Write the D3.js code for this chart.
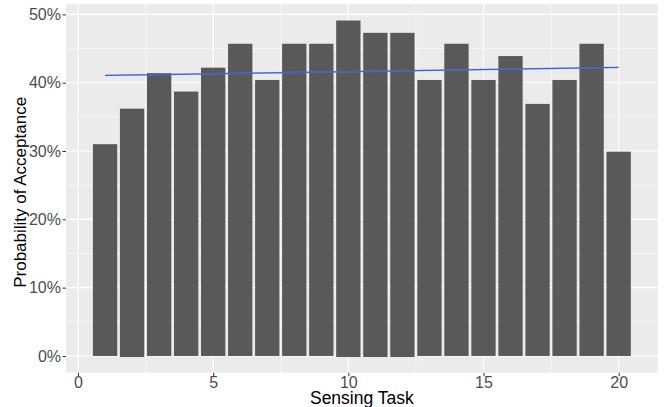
<!DOCTYPE html>
<html>
<head>
<meta charset="utf-8">
<script src="https://cdn.jsdelivr.net/npm/d3@7"></script>
<style>
  html, body { margin: 0; padding: 0; background: #fff; }
  svg { display: block; }
  text { font-family: "Liberation Sans", Arial, Helvetica, sans-serif; }
</style>
</head>
<body>
<svg id="chart" width="664" height="407"></svg>
<script>
// ---- data ----
const tasks = [1,2,3,4,5,6,7,8,9,10,11,12,13,14,15,16,17,18,19,20];
const acceptance = [0.310,0.362,0.414,0.387,0.422,0.457,0.404,0.457,0.457,0.491,
                    0.473,0.473,0.404,0.457,0.404,0.439,0.369,0.404,0.457,0.299];
const barBase = [0,-0.0015,0,0,0,0,0,0,0,-0.0015,-0.0015,-0.0015,0,0,0,0,0,0,0,0];
const trendX = [1, 20];
const trendY = [0.4106, 0.4223];
const trendSe = [0.0012, 0.0012];
const xTicks = [0,5,10,15,20];
const xMinor = [2.5,7.5,12.5,17.5];
const yTicks = [0,0.1,0.2,0.3,0.4,0.5];
const yMinor = [0.05,0.15,0.25,0.35,0.45];
const xTitle = "Sensing Task";
const yTitle = "Probability of Acceptance";

// ---- layout ----
const svg = d3.select("#chart");
const panel = {left: 66, right: 657.7, top: 4, bottom: 372.7};

const x = d3.scaleLinear().domain([-0.445, 21.445]).range([panel.left, panel.right]);
const y = d3.scaleLinear().domain([-0.0245, 0.5152]).range([panel.bottom, panel.top]);

svg.append("rect")
  .attr("x", panel.left).attr("y", panel.top)
  .attr("width", panel.right - panel.left).attr("height", panel.bottom - panel.top)
  .attr("fill", "#EBEBEB");

const grid = svg.append("g");
grid.selectAll("line.ymin").data(yMinor).join("line")
  .attr("x1", panel.left).attr("x2", panel.right)
  .attr("y1", d => y(d)).attr("y2", d => y(d))
  .attr("stroke", "#fff").attr("stroke-width", 0.55);
grid.selectAll("line.xmin").data(xMinor).join("line")
  .attr("y1", panel.top).attr("y2", panel.bottom)
  .attr("x1", d => x(d)).attr("x2", d => x(d))
  .attr("stroke", "#fff").attr("stroke-width", 0.55);
grid.selectAll("line.ymaj").data(yTicks).join("line")
  .attr("x1", panel.left).attr("x2", panel.right)
  .attr("y1", d => y(d)).attr("y2", d => y(d))
  .attr("stroke", "#fff").attr("stroke-width", 1.1);
grid.selectAll("line.xmaj").data(xTicks).join("line")
  .attr("y1", panel.top).attr("y2", panel.bottom)
  .attr("x1", d => x(d)).attr("x2", d => x(d))
  .attr("stroke", "#fff").attr("stroke-width", 1.1);

// bars
svg.append("g").selectAll("rect").data(tasks).join("rect")
  .attr("x", (d) => x(d - 0.45))
  .attr("width", () => x(0.45) - x(-0.45))
  .attr("y", (d, i) => y(acceptance[i]))
  .attr("height", (d, i) => y(barBase[i]) - y(acceptance[i]))
  .attr("fill", "#595959");

// trend ribbon + line
const trend = trendX.map((d, i) => ({x: d, y: trendY[i], se: trendSe[i]}));
svg.append("path").datum(trend)
  .attr("d", d3.area().x(d => x(d.x)).y0(d => y(d.y - d.se)).y1(d => y(d.y + d.se)))
  .attr("fill", "#999").attr("opacity", 0.4);
svg.append("path").datum(trend)
  .attr("d", d3.line().x(d => x(d.x)).y(d => y(d.y)))
  .attr("fill", "none").attr("stroke", "#3A62D8").attr("stroke-width", 1.3);

// axes
const yAxis = d3.axisLeft(y).tickValues(yTicks).tickFormat(d3.format(".0%")).tickSize(3.5).tickPadding(1.5);
const gy = svg.append("g").attr("transform", `translate(${panel.left},0)`).call(yAxis);
gy.select(".domain").remove();
gy.selectAll(".tick line").attr("stroke", "#333").attr("stroke-width", 1);
gy.selectAll(".tick text").attr("fill", "#4D4D4D").attr("font-size", "16px")
  .style("font-family", "'Liberation Sans', Arial, sans-serif");

const xAxis = d3.axisBottom(x).tickValues(xTicks).tickFormat(d3.format("d")).tickSize(3.5).tickPadding(0.5);
const gx = svg.append("g").attr("transform", `translate(0,${panel.bottom})`).call(xAxis);
gx.select(".domain").remove();
gx.selectAll(".tick line").attr("stroke", "#333").attr("stroke-width", 1);
gx.selectAll(".tick text").attr("fill", "#4D4D4D").attr("font-size", "16px")
  .style("font-family", "'Liberation Sans', Arial, sans-serif");

// titles
svg.append("text")
  .attr("x", (panel.left + panel.right) / 2).attr("y", 404)
  .attr("text-anchor", "middle").attr("font-size", "17.5px").attr("fill", "#000")
  .text(xTitle);
svg.append("text")
  .attr("transform", `translate(25.5,${(panel.top + panel.bottom) / 2 + 4}) rotate(-90)`)
  .attr("text-anchor", "middle").attr("font-size", "17px").attr("fill", "#000")
  .text(yTitle);
</script>
</body>
</html>
